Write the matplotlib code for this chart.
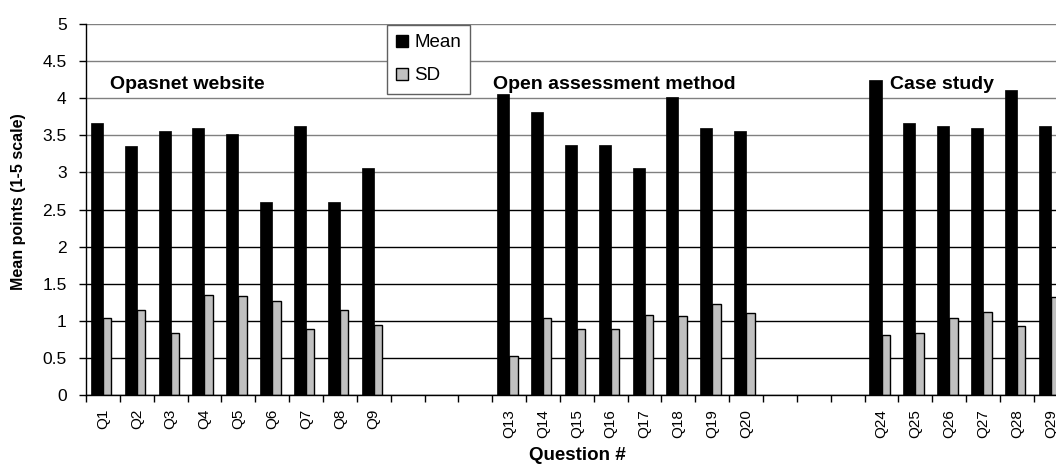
import matplotlib
matplotlib.use('Agg')
import matplotlib.pyplot as plt
from matplotlib.patches import Patch
import numpy as np

plt.rcParams['font.family'] = ['Liberation Sans', 'DejaVu Sans']

# question labels (empty slots have no label)
questions = ['Q1', 'Q2', 'Q3', 'Q4', 'Q5', 'Q6', 'Q7', 'Q8', 'Q9', '', '', '',
             'Q13', 'Q14', 'Q15', 'Q16', 'Q17', 'Q18', 'Q19', 'Q20', '', '', '',
             'Q24', 'Q25', 'Q26', 'Q27', 'Q28', 'Q29']

mean_vals = [3.66, 3.35, 3.56, 3.60, 3.52, 2.60, 3.62, 2.60, 3.06, None, None, None,
             4.06, 3.81, 3.37, 3.37, 3.06, 4.01, 3.60, 3.56, None, None, None,
             4.24, 3.67, 3.62, 3.60, 4.11, 3.62]

sd_vals = [1.04, 1.14, 0.83, 1.35, 1.33, 1.27, 0.89, 1.14, 0.95, None, None, None,
           0.52, 1.04, 0.89, 0.89, 1.08, 1.06, 1.22, 1.10, None, None, None,
           0.81, 0.83, 1.04, 1.12, 0.93, 1.32]

section_names = ['Opasnet website', 'Open assessment method', 'Case study']
section_x = [0.21, 11.52, 23.25]

y_ticks = np.arange(0, 5.01, 0.5)

mean_arr = np.array([np.nan if v is None else v for v in mean_vals])
sd_arr = np.array([np.nan if v is None else v for v in sd_vals])
x = np.arange(len(questions))

fig = plt.figure(figsize=(10.56, 4.66), dpi=100)
# plot area runs past the right edge of the picture, like the original crop
ax = fig.add_axes([86 / 1056, 71 / 466, 981.7 / 1056, 371 / 466])

# gridlines
for yv in y_ticks:
    col = '#808080' if yv >= 3 else 'black'
    ax.axhline(yv, color=col, linewidth=1, zorder=0)

ax.bar(x, mean_arr, width=-0.355, align='edge', color='black',
       edgecolor='black', linewidth=0.5, zorder=2)
ax.bar(x, sd_arr, width=0.25, align='edge', color='#c0c0c0',
       edgecolor='black', linewidth=1, zorder=2)

ax.set_xlim(-0.5, len(questions) - 0.5)
ax.set_ylim(0, 5)

ax.set_yticks(y_ticks)
ax.set_yticklabels(['0', '0.5', '1', '1.5', '2', '2.5', '3', '3.5', '4', '4.5', '5'])
ax.tick_params(axis='y', direction='out', length=5, width=1, pad=9,
               labelsize=12.5, color='black')

ax.set_xticks(x)
ax.set_xticklabels(questions, rotation=90, fontsize=11)
ax.set_xticks(np.arange(-0.5, len(questions), 1), minor=True)
ax.tick_params(axis='x', which='major', length=0, pad=10)
ax.tick_params(axis='x', which='minor', direction='out', length=5, width=1)

for s in ['top', 'right']:
    ax.spines[s].set_visible(False)
for s in ['left', 'bottom']:
    ax.spines[s].set_linewidth(1)
    ax.spines[s].set_color('black')

ax.set_ylabel('Mean points (1-5 scale)', fontsize=11.5, fontweight='bold')
ax.set_xlabel('Question #', fontsize=13.5, fontweight='bold')
ax.xaxis.set_label_coords((577 - 86) / 981.7, -(447 - 395) / 371)
ax.yaxis.set_label_coords(-(86 - 26) / 981.7, 0.52)

for name, xs in zip(section_names, section_x):
    ax.text(xs, 4.13, name, fontsize=14, fontweight='bold',
            ha='left', va='baseline', zorder=3)

handles = [Patch(facecolor='black', edgecolor='black', label='Mean'),
           Patch(facecolor='#c0c0c0', edgecolor='black', label='SD')]
leg = fig.legend(handles=handles, loc='upper left',
                 bbox_to_anchor=(387 / 1056, 1 - 25 / 466), borderaxespad=0,
                 fontsize=13.5, handlelength=0.6, handleheight=0.6,
                 handletextpad=0.35, labelspacing=0.85, borderpad=0.5,
                 fancybox=False, framealpha=1, edgecolor='#606060')
leg.get_frame().set_linewidth(1)

fig.savefig('out.png', dpi=100)
